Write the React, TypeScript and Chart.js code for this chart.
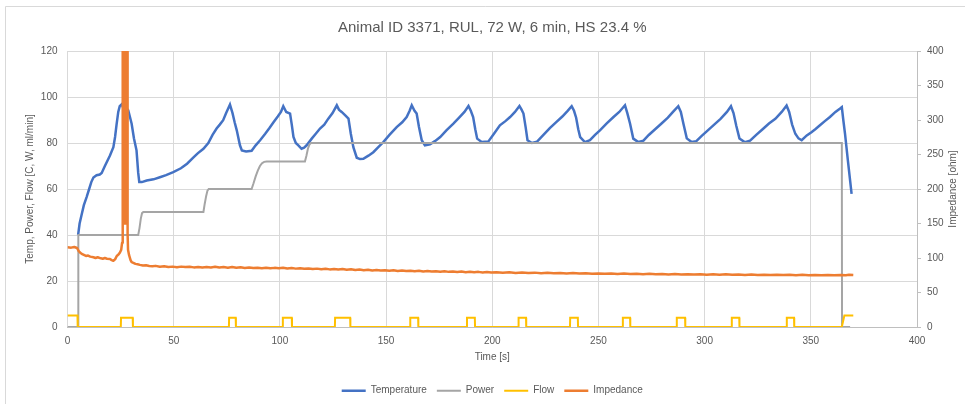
import React, { useEffect, useRef } from "react";
import { Chart, registerables } from "chart.js";

Chart.register(...registerables);

const chartTitle = "Animal ID 3371, RUL, 72 W, 6 min, HS 23.4 %";
const xAxisTitle = "Time [s]";
const leftAxisTitle = "Temp, Power, Flow [C, W, ml/min]";
const rightAxisTitle = "Impedance [ohm]";
const seriesNames = ["Temperature", "Power", "Flow", "Impedance"];

const temperatureTime = [
  5.0, 5.7, 6.7, 7.7, 9.0, 10.2, 11.2, 12.2, 13.7, 15.2, 16.1, 17.6, 20.0, 21.6, 22.4, 23.1, 23.9, 24.6, 25.5,
  26.4, 27.1, 27.9, 28.6, 29.5, 30.2, 31.3, 32.5, 33.3, 33.8, 35.0, 37.3, 40.5, 43.5, 46.4, 49.8, 53.4, 56.3,
  59.2, 61.3, 64.0, 66.3, 68.3, 70.2, 71.7, 73.3, 74.7, 76.5, 77.7, 78.7, 79.7, 81.2, 82.1, 84.1, 86.7, 88.6,
  90.7, 93.1, 95.1, 97.0, 99.0, 100.5, 101.6, 103.0, 104.8, 105.6, 106.4, 107.5, 108.7, 110.2, 111.4, 112.6,
  115.0, 116.9, 118.9, 120.9, 122.8, 124.8, 126.8, 127.8, 129.1, 130.8, 132.3, 133.4, 134.6, 136.2, 137.7,
  139.3, 141.7, 144.0, 146.7, 148.7, 151.6, 155.0, 157.6, 159.7, 161.1, 162.1, 163.4, 164.4, 165.5, 166.8,
  168.3, 170.7, 173.0, 175.5, 178.4, 181.7, 184.4, 186.9, 188.8, 189.9, 191.0, 192.0, 192.9, 195.0, 198.2,
  200.8, 203.6, 206.2, 208.4, 210.7, 212.8, 213.8, 214.7, 215.7, 216.6, 218.7, 221.1, 224.1, 227.1, 230.0,
  233.0, 235.5, 237.4, 238.5, 239.5, 240.5, 241.4, 243.6, 246.0, 248.4, 250.7, 253.9, 257.1, 259.8, 262.5,
  263.6, 264.9, 266.4, 268.8, 271.2, 273.7, 276.7, 279.7, 282.7, 285.1, 287.6, 288.8, 290.1, 291.6, 293.9,
  296.1, 298.5, 301.5, 304.5, 307.5, 310.5, 312.4, 313.6, 314.9, 316.4, 319.0, 321.4, 324.3, 327.3, 330.3,
  333.3, 336.3, 338.6, 339.8, 341.2, 342.7, 344.2, 345.7, 348.1, 350.3, 352.1, 354.3, 356.6, 359.0, 361.6,
  363.8, 364.6, 365.3, 366.1, 367.5, 369.2,
];
const temperatureValues = [
  40, 45, 49, 53, 56.5, 60, 63, 65, 66, 66.3, 67, 70, 74.6, 78.2, 82.6, 88, 93.5, 96, 96.8,
  95, 93, 95, 94.2, 91, 88.4, 82, 76.8, 67, 63, 63, 63.7, 64.2, 65.1, 66, 67.3, 69, 71,
  73.6, 75.5, 77.5, 80, 83.5, 86.3, 88, 89.9, 93, 96.7, 93, 89, 85.5, 79, 76.8, 76.3, 76.6, 79,
  81.2, 84, 86.5, 89, 91.5, 93.5, 96, 93.5, 92.8, 88, 82.6, 80, 79, 77.5, 78, 79,
  81.9, 84, 86.3, 88, 90.6, 93, 96.4, 94.5, 93.5, 92, 90.6, 84, 78.2, 73.6, 73,
  73.1, 74.5, 76, 78.5, 80.4, 83.5, 86.9, 89, 91.3, 94, 96.4, 94, 92.8, 87, 81.2,
  79, 79.4, 80.8, 82.6, 85.5, 88.4, 91, 93.5, 96.1, 94, 91.3, 86, 81.9, 80.4, 80.7,
  84, 87.7, 89.5, 91.3, 93.5, 96.1, 94.5, 92.8, 87, 81.2, 80, 80.6, 83.5, 86.5, 89,
  91.5, 94, 96, 94, 91, 86, 82.6, 80.4, 81.2, 83.5, 85.5, 88.5, 91.3, 93.5, 96.4,
  93, 88.4, 81.9, 80.4, 81, 83.5, 86, 88.5, 91, 93.5, 96, 93.5, 88, 82, 80.4,
  80.8, 83, 85.5, 88, 90.5, 93.5, 96, 93, 87.5, 82, 80.3, 81, 83.5, 86, 88.5,
  90.5, 93.5, 96.3, 93.5, 88, 84, 82, 81.2, 83.3, 84.7, 86, 87.7, 89.5, 91.3, 93.5,
  95, 95.6, 90, 84.1, 72, 57.9,
];

const powerTime = [
  0, 5.0, 5.1, 33.3, 33.9, 34.5, 35.1, 35.7, 64.0, 64.6, 65.3, 65.9, 66.5, 86.7, 87.6, 88.6, 89.6, 90.6, 91.6,
  92.6, 93.8, 111.8, 112.5, 113.2, 113.9, 114.6, 364.6, 364.7, 368.5,
];
const powerValues = [
  0, 0, 40, 40, 43, 47, 49.5, 50, 50, 53.5, 57, 59.3, 60, 60, 62.5, 65.5, 68, 70, 71.2,
  71.8, 72, 72, 74.5, 77.5, 79.3, 80, 80, 0, 0,
];

const flowTime = [
  0, 4.7, 4.8, 25.1, 25.2, 30.7, 30.8, 76.0, 76.1, 79.2, 79.3, 101.3, 101.4, 105.6, 105.7, 125.9, 126.0, 133.1,
  133.2, 161.3, 161.4, 165.1, 165.2, 188.0, 188.1, 191.8, 191.9, 212.3, 212.4, 215.9, 216.0, 236.6, 236.7,
  240.3, 240.4, 261.4, 261.5, 264.9, 265.0, 286.8, 286.9, 290.8, 290.9, 312.7, 312.8, 316.3, 316.4, 338.6,
  338.7, 342.1, 342.2, 364.6, 365.8, 370.0,
];
const flowValues = [
  5, 5, 0, 0, 4, 4, 0, 0, 4, 4, 0, 0, 4, 4, 0, 0, 4, 4,
  0, 0, 4, 4, 0, 0, 4, 4, 0, 0, 4, 4, 0, 0, 4,
  4, 0, 0, 4, 4, 0, 0, 4, 4, 0, 0, 4, 4, 0, 0,
  4, 4, 0, 0, 5, 5,
];

const impedanceTime = [
  0, 1.75, 3.2, 4.5, 5.3, 5.9, 6.7, 7.7, 8.7, 9.7, 10.7, 12.2, 13.2, 14.2, 15.7, 16.6, 17.6, 18.6, 20.0, 20.8,
  21.6, 22.4, 23.2, 24.0, 24.7, 25.3, 25.7, 25.9, 26.1, 26.3, 26.5, 26.7, 26.9, 27.1, 27.3, 27.5, 27.7, 27.9,
  28.1, 28.3, 28.5, 29.0, 29.7, 30.2, 31.0, 32.0, 33.0, 34.1, 35.5, 37, 38.5, 40, 41.5, 43.5, 45.5, 47.5,
  49.5, 51.5, 53.5, 55.5, 57.5, 59.5, 61.5, 63.5, 65.5, 67.5, 69.5, 71.5, 73.5, 75.5, 77.5, 79.5, 81.5, 83.5,
  85.5, 87.5, 89.5, 91.5, 93.5, 95.5, 97.5, 99.5, 101.5, 103.5, 105.5, 107.5, 109.5, 111.5, 113.5, 115.5,
  117.5, 119.5, 121.5, 123.5, 125.5, 127.5, 129.5, 131.5, 133.5, 135.5, 137.5, 139.5, 141.5, 143.5, 145.5,
  147.5, 149.5, 151.5, 153.5, 155.5, 157.5, 159.5, 161.5, 163.5, 165.5, 167.5, 169.5, 171.5, 173.5, 175.5,
  177.5, 179.5, 181.5, 183.5, 185.5, 187.5, 189.5, 191.5, 193.5, 195.5, 197.5, 199.5, 202, 205, 208, 211,
  214, 217, 220, 223, 226, 229, 232, 235, 238, 241, 244, 247, 250, 253, 256, 259, 262, 265, 268, 271, 274,
  277, 280, 283, 286, 289, 292, 295, 298, 301, 304, 307, 310, 313, 316, 319, 322, 325, 328, 331, 334, 337,
  340, 343, 346, 349, 352, 355, 358, 361, 364, 366.5, 368, 370,
];
const impedanceValues = [
  115.5, 115, 116, 114.5, 110, 108, 106, 104.5, 103, 103.5, 102, 101, 100, 101, 99.5, 99, 100, 99, 98.5, 97,
  96, 98, 103, 105, 108, 112, 122, 145, 2500, 150, 2500, 150, 2500, 150, 2500, 150, 2500, 150,
  2500, 135, 112, 104, 97, 94, 93, 91.5, 91, 90, 89, 89.4, 88.5, 88, 88.6, 87.3, 88, 87,
  87.5, 86.5, 87.5, 86.8, 87.3, 86.4, 87, 86.2, 86.9, 86.3, 87.2, 86.1, 86.8, 86, 86.9, 85.8, 86.5, 85.6,
  86.3, 85.4, 86, 85.2, 85.9, 85, 85.7, 85.3, 86, 84.9, 85.6, 84.6, 85.2, 84.3, 84.9, 84,
  84.6, 83.7, 84.4, 83.5, 84.1, 83.4, 84, 83, 83.6, 82.6, 83.2, 82.3, 82.9, 82, 82.7,
  81.8, 82.3, 81.5, 82.1, 81.2, 81.9, 81, 81.6, 80.8, 81.4, 80.5, 81.1, 80.3, 80.9, 80.1,
  80.7, 79.9, 80.4, 79.7, 80.3, 79.5, 80.1, 79.3, 79.9, 79.1, 79.7, 78.9, 79.5, 78.7, 79.2, 78.4,
  79, 78.2, 78.8, 78, 78.6, 77.8, 78.4, 77.6, 78.1, 77.4, 77.9, 77.2, 77.7, 77, 77.6, 76.8, 77.4, 76.7, 77.2, 76.5, 77.1,
  76.4, 76.9, 76.2, 76.8, 76.1, 76.6, 76, 76.5, 75.8, 76.4, 75.7, 76.3, 75.6, 76.1, 75.5, 76, 75.4, 75.9, 75.3, 75.8, 75.2,
  75.7, 75.1, 75.6, 75, 75.5, 75, 75.5, 74.9, 75.4, 75, 75.6, 75.3,
];

const xTicks = { min: 0, max: 400, step: 50 };
const leftTicks = { min: 0, max: 120, step: 20 };
const rightTicks = { min: 0, max: 400, step: 50 };

const colors = ["#4472C4", "#A5A5A5", "#FFC000", "#ED7D31"];

function pairs(t: number[], v: number[]) {
  return t.map((x, i) => ({ x, y: v[i] }));
}

export default function App() {
  const ref = useRef<HTMLCanvasElement | null>(null);

  useEffect(() => {
    if (!ref.current) return;
    const family = '"Liberation Sans", Arial, sans-serif';
    const textColor = "#595959";
    const font = { family, size: 10 };

    const decorPlugin = {
      id: "decor",
      beforeDraw(chart: any) {
        const ctx = chart.ctx;
        ctx.save();
        ctx.fillStyle = "#ffffff";
        ctx.fillRect(0, 0, chart.width, chart.height);
        ctx.strokeStyle = "#D9D9D9";
        ctx.lineWidth = 1;
        ctx.beginPath();
        ctx.moveTo(5.5, chart.height);
        ctx.lineTo(5.5, 6.5);
        ctx.lineTo(chart.width, 6.5);
        ctx.stroke();
        ctx.restore();
      },
      afterDraw(chart: any) {
        const ctx = chart.ctx;
        const a = chart.chartArea;
        ctx.save();
        ctx.translate(953.5, (a.top + a.bottom) / 2);
        ctx.rotate(-Math.PI / 2);
        ctx.font = `10px ${family}`;
        ctx.fillStyle = textColor;
        ctx.textAlign = "center";
        ctx.textBaseline = "middle";
        ctx.fillText(rightAxisTitle, 0, 0);
        ctx.restore();
      },
    };

    const common = { pointRadius: 0, pointHoverRadius: 0, pointStyle: "line", fill: false, tension: 0 };

    const chart = new Chart(ref.current, {
      type: "line",
      data: {
        datasets: [
          { ...common, label: seriesNames[0], data: pairs(temperatureTime, temperatureValues), borderColor: colors[0], backgroundColor: colors[0], borderWidth: 2.5, yAxisID: "y", order: 3 },
          { ...common, label: seriesNames[1], data: pairs(powerTime, powerValues), borderColor: colors[1], backgroundColor: colors[1], borderWidth: 2, yAxisID: "y", order: 2 },
          { ...common, label: seriesNames[2], data: pairs(flowTime, flowValues), borderColor: colors[2], backgroundColor: colors[2], borderWidth: 2, yAxisID: "y", order: 1 },
          { ...common, label: seriesNames[3], data: pairs(impedanceTime, impedanceValues), borderColor: colors[3], backgroundColor: colors[3], borderWidth: 2.5, borderJoinStyle: "round", yAxisID: "y1", order: 0 },
        ],
      } as any,
      options: {
        animation: false,
        responsive: true,
        maintainAspectRatio: false,
        parsing: true,
        layout: { padding: { top: 0, left: 0, right: 0, bottom: -1.7 } },
        plugins: {
          tooltip: { enabled: false },
          title: {
            display: true,
            text: chartTitle,
            color: textColor,
            fullSize: false,
            font: { family, size: 15, weight: "normal" },
            padding: { top: 19, bottom: 14 },
          },
          legend: {
            display: true,
            position: "bottom",
            fullSize: false,
            labels: {
              usePointStyle: true,
              pointStyleWidth: 24,
              padding: 10,
              color: textColor,
              font,
              sort: (a: any, b: any) => a.datasetIndex - b.datasetIndex,
            },
          },
        },
        scales: {
          x: {
            type: "linear",
            min: xTicks.min,
            max: xTicks.max,
            ticks: { stepSize: xTicks.step, padding: 8, color: textColor, font },
            grid: { color: "#D9D9D9", drawTicks: false },
            border: { display: true, color: "#BFBFBF" },
            title: { display: true, text: xAxisTitle, color: textColor, font, padding: { top: 4, bottom: 12.7 } },
            afterFit: (s: any) => { s.height = 48.7; },
          },
          y: {
            position: "left",
            min: leftTicks.min,
            max: leftTicks.max,
            ticks: { stepSize: leftTicks.step, padding: 10, color: textColor, font },
            grid: { color: "#D9D9D9", drawTicks: false },
            border: { display: false },
            title: { display: true, text: leftAxisTitle, color: textColor, font, padding: { top: 24, bottom: 24 } },
            afterFit: (s: any) => { s.width = 67.5; },
          },
          y1: {
            position: "right",
            min: rightTicks.min,
            max: rightTicks.max,
            ticks: { stepSize: rightTicks.step, padding: 6, color: textColor, font },
            grid: { drawOnChartArea: false, color: "#BFBFBF", tickLength: 4, drawTicks: true },
            border: { display: true, color: "#BFBFBF" },
            afterFit: (s: any) => { s.width = 48; },
          },
        },
      } as any,
      plugins: [decorPlugin],
    });

    return () => chart.destroy();
  }, []);

  return (
    <div style={{ position: "fixed", left: 0, top: 0, width: 965, height: 404, background: "#ffffff" }}>
      <canvas ref={ref} />
    </div>
  );
}
